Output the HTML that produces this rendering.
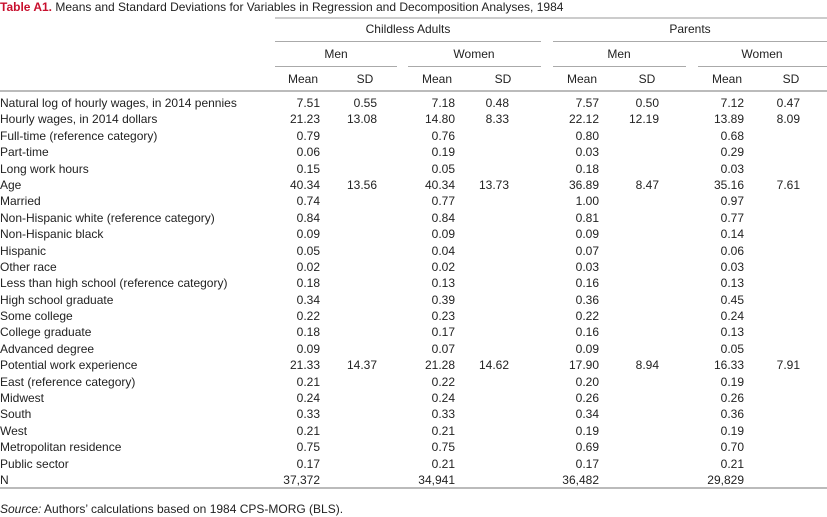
<!DOCTYPE html>
<html><head><meta charset="utf-8"><style>
body{margin:0;width:827px;height:517px;background:#fff;font-family:"Liberation Sans",sans-serif;color:#222;position:relative;overflow:hidden}
.t{position:absolute;font-size:12px;white-space:nowrap;line-height:14px}
.r{text-align:right}
.c{text-align:center;transform:translateX(-50%)}
.ln{position:absolute;height:1px;background:#aaa}
</style></head><body>
<div class="t" style="left:0;top:0;font-size:12px"><b style="color:#c8102e">Table A1.</b> Means and Standard Deviations for Variables in Regression and Decomposition Analyses, 1984</div>
<div class="ln" style="left:275px;width:552px;top:17px;background:#ccc;height:2px"></div>
<div class="t c" style="left:408px;top:22px">Childless Adults</div>
<div class="t c" style="left:690px;top:22px">Parents</div>
<div class="ln" style="left:275px;width:266px;top:41px"></div>
<div class="ln" style="left:553px;width:274px;top:41px"></div>
<div class="t c" style="left:336px;top:47px">Men</div>
<div class="t c" style="left:474px;top:47px">Women</div>
<div class="t c" style="left:619px;top:47px">Men</div>
<div class="t c" style="left:762px;top:47px">Women</div>
<div class="ln" style="left:275px;width:122px;top:66px"></div>
<div class="ln" style="left:408px;width:133px;top:66px"></div>
<div class="ln" style="left:553px;width:133px;top:66px"></div>
<div class="ln" style="left:698px;width:129px;top:66px"></div>
<div class="ln" style="left:0;width:827px;top:90px;height:2px;background:#bbb"></div>
<div class="ln" style="left:0;width:827px;top:487px;height:2px;background:#bbb"></div>
<div class="t" style="left:0;top:502px"><i>Source:</i> Authors’ calculations based on 1984 CPS-MORG (BLS).</div>
<div id="tbl"></div>
<script>
const labels=["Natural log of hourly wages, in 2014 pennies","Hourly wages, in 2014 dollars","Full-time (reference category)","Part-time","Long work hours","Age","Married","Non-Hispanic white (reference category)","Non-Hispanic black","Hispanic","Other race","Less than high school (reference category)","High school graduate","Some college","College graduate","Advanced degree","Potential work experience","East (reference category)","Midwest","South","West","Metropolitan residence","Public sector","N"];
const cmMean=["7.51","21.23","0.79","0.06","0.15","40.34","0.74","0.84","0.09","0.05","0.02","0.18","0.34","0.22","0.18","0.09","21.33","0.21","0.24","0.33","0.21","0.75","0.17","37,372"];
const cmSD=["0.55","13.08","","","","13.56","","","","","","","","","","","14.37","","","","","","",""];
const cwMean=["7.18","14.80","0.76","0.19","0.05","40.34","0.77","0.84","0.09","0.04","0.02","0.13","0.39","0.23","0.17","0.07","21.28","0.22","0.24","0.33","0.21","0.75","0.21","34,941"];
const cwSD=["0.48","8.33","","","","13.73","","","","","","","","","","","14.62","","","","","","",""];
const pmMean=["7.57","22.12","0.80","0.03","0.18","36.89","1.00","0.81","0.09","0.07","0.03","0.16","0.36","0.22","0.16","0.09","17.90","0.20","0.26","0.34","0.19","0.69","0.17","36,482"];
const pmSD=["0.50","12.19","","","","8.47","","","","","","","","","","","8.94","","","","","","",""];
const pwMean=["7.12","13.89","0.68","0.29","0.03","35.16","0.97","0.77","0.14","0.06","0.03","0.13","0.45","0.24","0.13","0.05","16.33","0.19","0.26","0.36","0.19","0.70","0.21","29,829"];
const pwSD=["0.47","8.09","","","","7.61","","","","","","","","","","","7.91","","","","","","",""];
const cols=[[cmMean,320,303,"Mean"],[cmSD,377,365,"SD"],[cwMean,455,437,"Mean"],[cwSD,509,503,"SD"],[pmMean,599,582,"Mean"],[pmSD,659,647,"SD"],[pwMean,744,727,"Mean"],[pwSD,800,791,"SD"]];
const tb=document.getElementById('tbl');
const rowY=i=>96+i*16.39;
cols.forEach((c,j)=>{
 const h=document.createElement('div');h.className='t c';h.style.left=c[2]+'px';h.style.top='72px';h.textContent=c[3];
 
 
 tb.appendChild(h);
});
labels.forEach((l,i)=>{
 const d=document.createElement('div');d.className='t';d.style.left='0';d.style.top=rowY(i)+'px';d.textContent=l;
 
 
 tb.appendChild(d);
 cols.forEach(c=>{
  if(!c[0][i])return;
  const v=document.createElement('div');v.className='t r';v.style.right=(827-c[1])+'px';v.style.top=rowY(i)+'px';v.textContent=c[0][i];
  
  
  tb.appendChild(v);
 });
});
</script>
</body></html>
